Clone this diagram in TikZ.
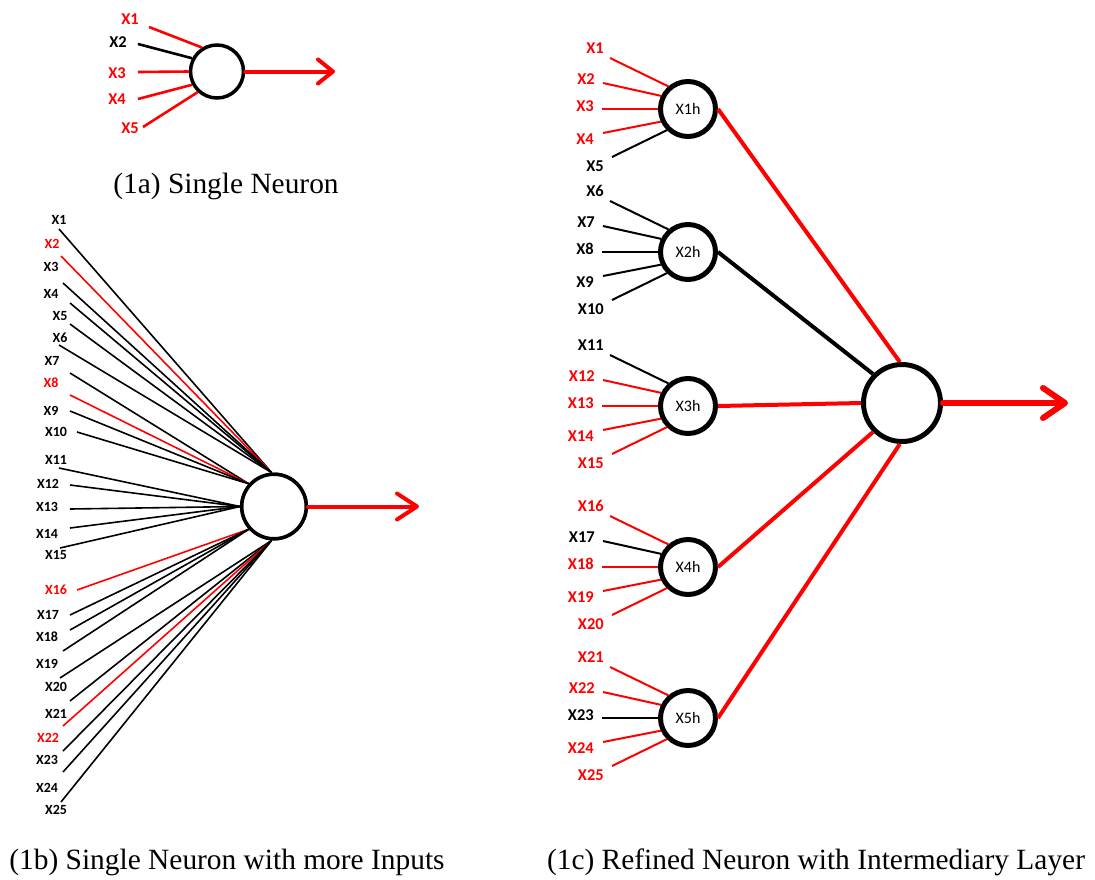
\documentclass[tikz,border=0pt]{standalone}
\usepackage{fontspec}
\setmainfont{Liberation Serif}
\newfontfamily\labfont{Carlito}
\usetikzlibrary{arrows.meta}
\definecolor{nred}{RGB}{255,0,0}
\tikzset{
  neur/.style={circle,draw=black,fill=white,inner sep=0pt},
  lab/.style={inner sep=0pt,font=\labfont\bfseries\fontsize{#1}{#1}\selectfont},
  hidtext/.style={font=\labfont\fontsize{16}{16}\selectfont},
  captext/.style={inner sep=0pt,font=\fontsize{29.4}{32}\selectfont},
  arrA/.style={draw=nred,line width=4pt,line cap=round,-{Straight Barb[round,length=15pt,width=24pt]}},
  arrB/.style={draw=nred,line width=4pt,line cap=round,-{Straight Barb[round,length=20pt,width=26pt]}},
  arrC/.style={draw=nred,line width=6pt,line cap=round,-{Straight Barb[round,length=22pt,width=30pt]}},
}
\begin{document}
\begin{tikzpicture}[x=1pt,y=-1pt]
\useasboundingbox (0,0) rectangle (1095,879);

% ---------------- (1a)
\node[neur,line width=3.5pt,minimum size=53pt] (na) at (217,71.5) {};
\foreach \k/\lx/\ly/\sx/\sy/\col/\an in {
  1/130/19/149/27/nred/122,
  2/118/42/138/44/black/152,
  3/117/73/138/72/nred/180,
  4/117/99/138/99/nred/208,
  5/130/128/143/127/nred/227}{
  \node[lab=16.5,text=\col] (a\k) at (\lx,\ly) {X\k};
  \coordinate (as\k) at (\sx,\sy);
  \draw[draw=\col,line width=2.6pt] (as\k) -- (na.\an);
}
\coordinate (ae) at (335,71.5);
\draw[arrA] (na.east) -- (ae);
\node[captext] (capa) at (226,186) {(1a) Single Neuron};

% ---------------- (1b)
\node[neur,line width=3.5pt,minimum size=64.5pt] (nb) at (274,506.5) {};
\foreach \k/\lx/\ly/\sx/\sy/\col/\an in {
  1/59/220/59/229/black/94,
  2/52/244/61/256/nred/94,
  3/51/267/63/283/black/94,
  4/51/294/70/303/black/94,
  5/60/316/70/324/black/94,
  6/60/338/59/345/black/94,
  7/52/361/70/373/black/138,
  8/51/383/70/395/nred/138,
  9/51/411/70/411/black/138,
  10/56/432/77/432/black/138,
  11/56/460/59/468/black/180,
  12/48/484/70/485/black/180,
  13/47/507/70/509/black/180,
  14/47/534/70/528/black/180,
  15/56/555/60/548/black/180,
  16/56/590/77/590/nred/222,
  17/48/615/70/615/black/222,
  18/47/637/70/630/black/222,
  19/47/664/63/651/black/222,
  20/56/687/60/678/black/266,
  21/56/714/70/701/black/266,
  22/48/738/63/726/nred/266,
  23/47/760/63/751/black/266,
  24/47/788/63/772/black/266,
  25/56/810/61/802/black/266}{
  \node[lab=14,text=\col] (b\k) at (\lx,\ly) {X\k};
  \coordinate (bs\k) at (\sx,\sy);
  \draw[draw=\col,line width=1.6pt] (bs\k) -- (nb.\an);
}
\node[neur,line width=3.5pt,minimum size=64.5pt] at (nb) {};
\coordinate (be) at (419,506.5);
\draw[arrB] (nb.east) -- (be);
\node[captext] (capb) at (227,862) {(1b) Single Neuron with more Inputs};

% ---------------- (1c)
\node[neur,line width=5pt,minimum size=77pt] (no) at (902,403) {};
\foreach \h/\cy in {1/109,2/252,3/406,4/567,5/718}{
  \node[neur,hidtext,line width=5pt,minimum size=55pt] (h\h) at (688,\cy) {X\h h};
}
\foreach \k/\h/\j/\col in {
  1/1/1/nred, 2/1/2/nred, 3/1/3/nred, 4/1/4/nred, 5/1/5/black,
  6/2/1/black, 7/2/2/black, 8/2/3/black, 9/2/4/black, 10/2/5/black,
  11/3/1/black, 12/3/2/nred, 13/3/3/nred, 14/3/4/nred, 15/3/5/nred,
  16/4/1/nred, 17/4/2/black, 18/4/3/nred, 19/4/4/nred, 20/4/5/nred,
  21/5/1/nred, 22/5/2/nred, 23/5/3/black, 24/5/4/nred, 25/5/5/nred}{
  \pgfmathsetmacro\lx{{-84,-93,-94,-94,-84}[\j-1]}
  \pgfmathsetmacro\ly{{-61,-30,-3,30,57}[\j-1]}
  \pgfmathsetmacro\sx{{-78,-85,-86,-85,-76}[\j-1]}
  \pgfmathsetmacro\sy{{-51,-26,0,24,48}[\j-1]}
  \pgfmathtruncatemacro\an{{131,154,180,205,225}[\j-1]}
  \node[lab=16.5,text=\col,anchor=east] (c\k) at ([shift={(\lx,\ly)}]h\h.center) {X\k};
  \coordinate (cs\k) at ([shift={(\sx,\sy)}]h\h.center);
  \draw[draw=\col,line width=2pt] (cs\k) -- (h\h.\an);
}
\foreach \h/\col/\an in {1/nred/93,2/black/135,3/nred/180,4/nred/225,5/nred/267}{
  \draw[draw=\col,line width=4pt] (h\h.east) -- (no.\an);
}
\coordinate (ce) at (1068,403);
\draw[arrC] (no.east) -- (ce);
\node[captext] (capc) at (816,862) {(1c) Refined Neuron with Intermediary Layer};
\end{tikzpicture}
\end{document}
